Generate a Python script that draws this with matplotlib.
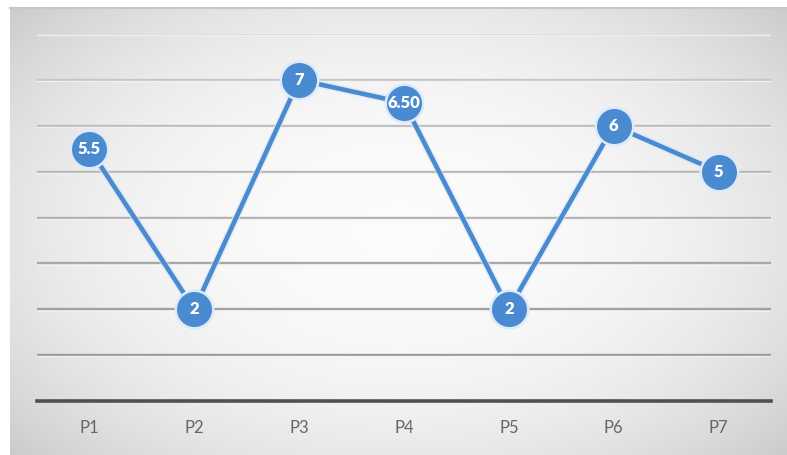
import numpy as np
import matplotlib
matplotlib.use("Agg")
import matplotlib.pyplot as plt
import matplotlib.patheffects as pe

categories = ["P1", "P2", "P3", "P4", "P5", "P6", "P7"]
values = [5.5, 2, 7, 6.5, 2, 6, 5]
labels = ["5.5", "2", "7", "6.50", "2", "6", "5"]

W, H = 787, 455
fig = plt.figure(figsize=(W / 100, H / 100), dpi=100)
fig.patch.set_facecolor("white")

# Chart area background: soft radial gradient, light centre fading to grey edges
bg = fig.add_axes([10 / W, 0, 1 - 10 / W, (H - 8) / H])
nx, ny = 400, 240
xx, yy = np.meshgrid(np.linspace(-1, 1, nx), np.linspace(-1, 1, ny))
r = np.sqrt((xx / 1.0) ** 2 + (yy / 1.1) ** 2)
shade = 0.985 - 0.22 * np.clip(r, 0, 1.45) ** 2.4 / 1.45 ** 2.4
shade = np.clip(shade, 0.74, 0.985)
bg.imshow(np.dstack([shade] * 3), aspect="auto", extent=[0, 1, 0, 1], origin="lower")
bg.set_axis_off()
bg.plot([0, 1], [1, 1], color="#c8c8c8", lw=1.5, transform=bg.transAxes, clip_on=False)

ax = fig.add_axes([37 / W, (H - 401) / H, (771 - 37) / W, (401 - 34) / H])
ax.patch.set_alpha(0)
x = np.arange(len(categories))
ax.set_xlim(-0.5, len(categories) - 0.5)
ax.set_ylim(0, 8)

grid_colors = {1: "#9a9a9a", 2: "#a2a2a2", 3: "#a8a8a8", 4: "#b0b0b0",
               5: "#b6b6b6", 6: "#bdbdbd", 7: "#c6c6c6", 8: "#d6d6d6"}
for yv, col in grid_colors.items():
    ax.axhline(yv, color=col, lw=1.7, zorder=1)
    ax.axhline(yv - 0.028, color="#f6f6f6", lw=1.0, alpha=0.8, zorder=1)

for s in ["top", "right", "left"]:
    ax.spines[s].set_visible(False)
ax.spines["bottom"].set_color("#505050")
ax.spines["bottom"].set_linewidth(2.6)
ax.set_yticks([])
ax.set_xticks(x)
ax.set_xticklabels(categories, family="Lato", fontsize=12, color="#666666")
ax.tick_params(axis="x", length=0, pad=14)

blue = "#4a8ad0"
ax.plot(x, values, color=blue, lw=3.3, zorder=3,
        path_effects=[pe.Stroke(linewidth=5.5, foreground="#d6e6f7", alpha=0.6), pe.Normal()])
ax.plot(x, values, linestyle="none", marker="o", markersize=27,
        markerfacecolor=blue, markeredgecolor="#dceafa", markeredgewidth=1.8, zorder=4)
for xi, yi, lab in zip(x, values, labels):
    ax.text(xi, yi, lab, ha="center", va="center", color="white",
            family="Lato", fontweight="heavy", fontsize=12, zorder=5)

fig.savefig("out.png", dpi=100)
